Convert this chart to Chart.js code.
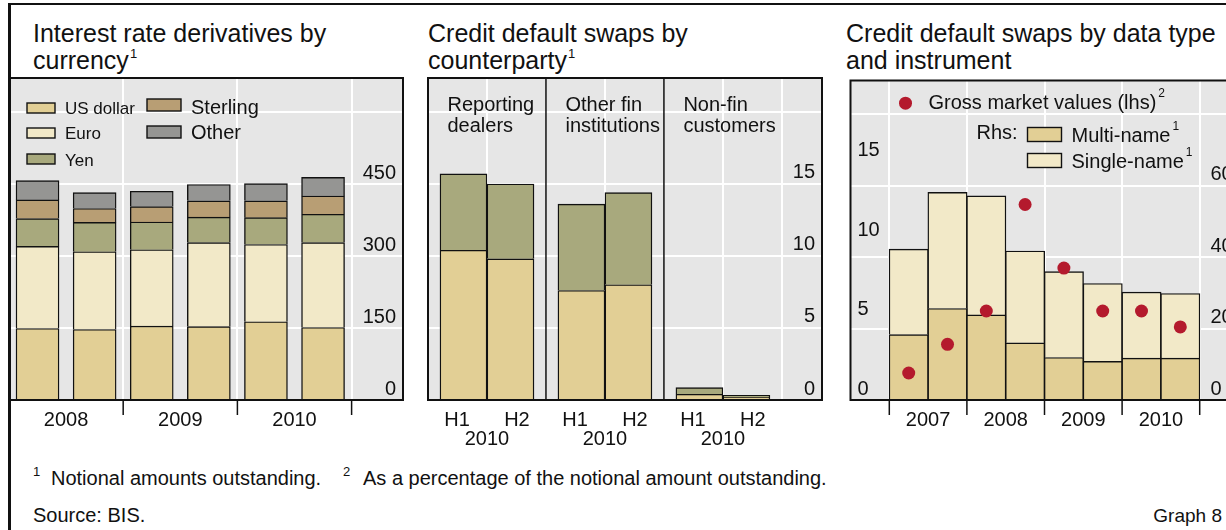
<!DOCTYPE html>
<html>
<head>
<meta charset="utf-8">
<title>Graph 8</title>
<script src="https://cdn.jsdelivr.net/npm/chart.js@4.4.1/dist/chart.umd.min.js"></script>
<style>
  html, body { margin: 0; padding: 0; background: #fff; }
  #fig { position: relative; width: 1226px; height: 530px; overflow: hidden;
         font-family: "Liberation Sans", Arial, sans-serif; color: #111; }
  .txt { position: absolute; white-space: nowrap; }
  .title { top: 20px; font-size: 25px; line-height: 27px; }
  .title sup { font-size: 13px; line-height: 0; vertical-align: 11px; margin-left: 1px; }
  .note { font-size: 20px; line-height: 20px; }
  .mark { font-size: 13px; line-height: 13px; }
  canvas { position: absolute; }
  .rule { position: absolute; background: #111; }
</style>
</head>
<body>
<div id="fig">
  <div class="rule" style="left:8px; top:3px; width:1230px; height:2px;"></div>
  <div class="rule" style="left:8px; top:3px; width:2.5px; height:540px;"></div>

  <div class="txt title" style="left:33px;">Interest rate derivatives by<br>currency<sup>1</sup></div>
  <div class="txt title" style="left:428px;">Credit default swaps by<br>counterparty<sup>1</sup></div>
  <div class="txt title" style="left:846px;">Credit default swaps by data type<br>and instrument</div>

  <canvas id="ird" width="401" height="386" style="left:6px; top:74px;"></canvas>
  <canvas id="cpty" width="402" height="386" style="left:424px; top:74px;"></canvas>
  <canvas id="dtype" width="401" height="386" style="left:844px; top:74px;"></canvas>

  <div class="txt mark" style="left:33px; top:465px;">1</div>
  <div class="txt note" style="left:51px; top:468px;">Notional amounts outstanding.</div>
  <div class="txt mark" style="left:343px; top:465px;">2</div>
  <div class="txt note" style="left:363px; top:468px;">As a percentage of the notional amount outstanding.</div>
  <div class="txt note" style="left:33px; top:505px;">Source: BIS.</div>
  <div class="txt note" style="right:4px; top:506px; font-size:19px;">Graph 8</div>
</div>

<script>
// ---- data ----

// Interest rate derivatives by currency, notional amounts (USD trn), half-years
const irdPeriods = ['H1 2008', 'H2 2008', 'H1 2009', 'H2 2009', 'H1 2010', 'H2 2010'];
const irdYears = ['2008', '2009', '2010'];
const irdSeries = ['US dollar', 'Euro', 'Yen', 'Sterling', 'Other'];
const irdUsd = [149, 147, 154, 153, 163, 151];
const irdEuro = [171, 162, 159, 175, 161, 177];
const irdYen = [58, 61, 58, 53, 56, 59];
const irdSterling = [39, 29, 32, 34, 35, 38];
const irdOther = [40, 33, 32, 34, 36, 39];
const irdTicks = [0, 150, 300, 450, 600];

// Credit default swaps by counterparty (USD trn), H1 and H2 2010
const cptyGroups = [['Reporting', 'dealers'], ['Other fin', 'institutions'], ['Non-fin', 'customers']];
const cptyHalves = ['H1', 'H2'];
const cptyYear = '2010';
const cptyH1Lower = [10.4, 7.6, 0.40];
const cptyH1Upper = [5.3, 6.0, 0.46];
const cptyH2Lower = [9.8, 8.0, 0.19];
const cptyH2Upper = [5.2, 6.4, 0.14];
const cptyTicks = [0, 5, 10, 15, 20];

// Credit default swaps by data type and instrument, half-years 2007-2010
const dtypePeriods = ['H1 2007', 'H2 2007', 'H1 2008', 'H2 2008', 'H1 2009', 'H2 2009', 'H1 2010', 'H2 2010'];
const dtypeYears = ['2007', '2008', '2009', '2010'];
const grossMarketValues = [1.7, 3.5, 5.6, 12.3, 8.3, 5.6, 5.6, 4.6];
const multiName = [18.3, 25.6, 23.8, 16.0, 11.9, 10.8, 11.7, 11.7];
const singleName = [23.9, 32.5, 33.3, 25.7, 24.0, 21.8, 18.5, 18.1];
const dtypeLhsTicks = [0, 5, 10, 15];
const dtypeRhsTicks = [0, 20, 40, 60, 80];

// ---- styling ----
const FONT_FAMILY = '"Liberation Sans", Arial, sans-serif';
const INK = '#111';
const GRID = '#ffffff';
const PLOT_BG = '#e6e6e6';
const irdColors = ['#e2cf95', '#f2e9c8', '#a8a97d', '#b89e74', '#959593'];
const lightColor = '#e2cf95';
const oliveColor = '#a8a97d';
const singleColor = '#f2e9c8';
const dotColor = '#b41a2d';

Chart.defaults.animation = false;
Chart.defaults.plugins.legend.display = false;
Chart.defaults.plugins.tooltip.enabled = false;

function setFont(ctx, px) {
    ctx.font = px + 'px ' + FONT_FAMILY;
}

// grey plot background, black frame, axis labels and tick marks
const panelFrame = {
    id: 'panelFrame',
    beforeDraw(chart) {
        const { ctx, chartArea: a } = chart;
        ctx.save();
        ctx.fillStyle = PLOT_BG;
        ctx.fillRect(a.left, a.top, a.width, a.height);
        ctx.restore();
    },
    afterDraw(chart, args, opts) {
        const { ctx, chartArea: a, scales } = chart;
        const x = scales.x;
        ctx.save();
        ctx.strokeStyle = INK;

        ctx.lineWidth = 1.5;
        (opts.separators || []).forEach(v => {
            const px = x.getPixelForValue(v);
            ctx.beginPath();
            ctx.moveTo(px, a.top);
            ctx.lineTo(px, a.bottom);
            ctx.stroke();
        });
        (opts.tickMarks || []).forEach(v => {
            const px = x.getPixelForValue(v);
            ctx.beginPath();
            ctx.moveTo(px, a.bottom);
            ctx.lineTo(px, a.bottom + 15);
            ctx.stroke();
        });

        ctx.lineWidth = 2;
        ctx.strokeRect(a.left, a.top, a.width, a.height);

        setFont(ctx, 20);
        ctx.fillStyle = INK;
        ctx.textBaseline = 'alphabetic';
        (opts.yLabels || []).forEach(spec => {
            const s = scales[spec.axis];
            ctx.textAlign = spec.align;
            const px = spec.from === 'right' ? a.right + spec.dx : a.left + spec.dx;
            spec.values.forEach(v => ctx.fillText(String(v), px, s.getPixelForValue(v) - 5.5));
        });
        ctx.textAlign = 'center';
        (opts.xLabels || []).forEach(l => {
            ctx.fillText(l.text, x.getPixelForValue(l.value), a.bottom + l.dy);
        });
        ctx.restore();
    }
};
Chart.register(panelFrame);

function xScale(min, max, gridValues) {
    return {
        type: 'linear', min: min, max: max, offset: false,
        grid: { color: GRID, lineWidth: 2, drawTicks: false, offset: false },
        border: { display: false },
        ticks: { display: false },
        afterBuildTicks: s => { s.ticks = gridValues.map(v => ({ value: v })); },
        afterFit: s => { s.height = 0; }
    };
}

function yScale(position, max, tickValues, showGrid) {
    return {
        type: 'linear', position: position, min: 0, max: max,
        grid: { display: showGrid, color: GRID, lineWidth: 2, drawTicks: false },
        border: { display: false },
        ticks: { display: false },
        afterBuildTicks: s => { s.ticks = tickValues.map(v => ({ value: v })); },
        afterFit: s => { s.width = 0; }
    };
}

function barStyle(width) {
    return { borderColor: INK, borderWidth: 1.4, barThickness: width };
}

const baseOptions = {
    responsive: false,
    maintainAspectRatio: false,
    layout: { padding: { left: 4, top: 4, right: 4, bottom: 60 } }
};

function drawSwatch(ctx, x, y, w, h, color) {
    ctx.fillStyle = color;
    ctx.fillRect(x, y, w, h);
    ctx.lineWidth = 1.4;
    ctx.strokeStyle = INK;
    ctx.strokeRect(x, y, w, h);
}

function drawWithSup(ctx, text, sup, x, y, size) {
    setFont(ctx, size);
    ctx.fillText(text, x, y);
    const w = ctx.measureText(text).width;
    setFont(ctx, 12);
    ctx.fillText(sup, x + w + 2, y - 12);
}

// ---- panel 1: interest rate derivatives ----
const irdLegend = {
    id: 'irdLegend',
    afterDatasetsDraw(chart) {
        const { ctx, chartArea: a } = chart;
        const items = [
            { k: 0, sx: 17, sy: 25, sw: 28, sh: 10, tx: 55, ty: 35.5, size: 17 },
            { k: 1, sx: 17, sy: 50, sw: 28, sh: 10, tx: 55, ty: 61, size: 17 },
            { k: 2, sx: 17, sy: 76, sw: 28, sh: 10, tx: 55, ty: 88, size: 17 },
            { k: 3, sx: 137, sy: 21, sw: 34, sh: 12, tx: 181, ty: 35.5, size: 20 },
            { k: 4, sx: 137, sy: 48, sw: 34, sh: 12, tx: 181, ty: 60.5, size: 20 }
        ];
        ctx.save();
        items.forEach(it => {
            drawSwatch(ctx, a.left + it.sx, a.top + it.sy, it.sw, it.sh, irdColors[it.k]);
            setFont(ctx, it.size);
            ctx.fillStyle = INK;
            ctx.textAlign = 'left';
            ctx.textBaseline = 'alphabetic';
            ctx.fillText(irdSeries[it.k], a.left + it.tx, a.top + it.ty);
        });
        ctx.restore();
    }
};

const irdValues = [irdUsd, irdEuro, irdYen, irdSterling, irdOther];
new Chart(document.getElementById('ird'), {
    type: 'bar',
    data: {
        labels: irdPeriods.map((p, i) => i + 1),
        datasets: irdSeries.map((name, k) => Object.assign({
            label: name, data: irdValues[k], backgroundColor: irdColors[k], stack: 'ird'
        }, barStyle(43)))
    },
    options: Object.assign({}, baseOptions, {
        scales: {
            x: xScale(0.518, 7.4, [2.5, 4.5, 6.5]),
            y: yScale('right', 671, irdTicks, true)
        },
        plugins: {
            panelFrame: {
                tickMarks: [2.5, 4.5, 6.5],
                xLabels: irdYears.map((y, i) => ({ text: y, value: 1.5 + 2 * i, dy: 26 })),
                yLabels: [{ axis: 'y', values: irdTicks.slice(0, -1), align: 'right', from: 'right', dx: -7 }]
            }
        }
    }),
    plugins: [irdLegend]
});

// ---- panel 2: CDS by counterparty ----
const cptyHeader = {
    id: 'cptyHeader',
    afterDatasetsDraw(chart) {
        const { ctx, chartArea: a, scales: { x } } = chart;
        ctx.save();
        setFont(ctx, 20);
        ctx.fillStyle = INK;
        ctx.textAlign = 'left';
        ctx.textBaseline = 'alphabetic';
        cptyGroups.forEach((lines, i) => {
            const left = x.getPixelForValue(i + 0.5) + 19.5;
            lines.forEach((t, j) => ctx.fillText(t, left, a.top + 33 + 21 * j));
        });
        ctx.restore();
    }
};

const cptyXLabels = [];
cptyGroups.forEach((g, i) => {
    cptyXLabels.push({ text: cptyHalves[0], value: i + 1 - 0.254, dy: 26 });
    cptyXLabels.push({ text: cptyHalves[1], value: i + 1 + 0.254, dy: 26 });
    cptyXLabels.push({ text: cptyYear, value: i + 1, dy: 45 });
});

new Chart(document.getElementById('cpty'), {
    type: 'bar',
    data: {
        labels: cptyGroups.map((g, i) => i + 1),
        datasets: [
            Object.assign({ label: 'H1 lower', data: cptyH1Lower, backgroundColor: lightColor, stack: 'H1' }, barStyle(47)),
            Object.assign({ label: 'H1 upper', data: cptyH1Upper, backgroundColor: oliveColor, stack: 'H1' }, barStyle(47)),
            Object.assign({ label: 'H2 lower', data: cptyH2Lower, backgroundColor: lightColor, stack: 'H2' }, barStyle(47)),
            Object.assign({ label: 'H2 upper', data: cptyH2Upper, backgroundColor: oliveColor, stack: 'H2' }, barStyle(47))
        ]
    },
    options: Object.assign({}, baseOptions, {
        scales: {
            x: xScale(0.5, 3.84, [1, 2, 3, 3.5]),
            y: yScale('right', 22.36, cptyTicks, true)
        },
        plugins: {
            panelFrame: {
                separators: [1.5, 2.5],
                xLabels: cptyXLabels,
                yLabels: [{ axis: 'y', values: cptyTicks.slice(0, -1), align: 'right', from: 'right', dx: -7 }]
            }
        }
    }),
    plugins: [cptyHeader]
});

// ---- panel 3: CDS by data type and instrument ----
const dtypeLegend = {
    id: 'dtypeLegend',
    afterDatasetsDraw(chart) {
        const { ctx, chartArea: a } = chart;
        ctx.save();
        ctx.fillStyle = dotColor;
        ctx.beginPath();
        ctx.arc(a.left + 55, a.top + 22.7, 6.5, 0, Math.PI * 2);
        ctx.fill();

        ctx.fillStyle = INK;
        ctx.textAlign = 'left';
        ctx.textBaseline = 'alphabetic';
        drawWithSup(ctx, 'Gross market values (lhs)', '2', a.left + 78, a.top + 28, 20);
        setFont(ctx, 20);
        ctx.fillText('Rhs:', a.left + 126, a.top + 58);

        drawSwatch(ctx, a.left + 177, a.top + 47, 34, 14, lightColor);
        drawSwatch(ctx, a.left + 177, a.top + 73, 34, 14, singleColor);
        ctx.fillStyle = INK;
        drawWithSup(ctx, 'Multi-name', '1', a.left + 221, a.top + 61, 20);
        drawWithSup(ctx, 'Single-name', '1', a.left + 221, a.top + 87, 20);
        ctx.restore();
    }
};

new Chart(document.getElementById('dtype'), {
    type: 'bar',
    data: {
        labels: dtypePeriods.map((p, i) => i + 1),
        datasets: [
            {
                type: 'line', label: 'Gross market values (lhs)', data: grossMarketValues,
                yAxisID: 'yl', showLine: false, order: 0,
                pointRadius: 6.5, pointHoverRadius: 6.5, pointBorderWidth: 0,
                pointBackgroundColor: dotColor, backgroundColor: dotColor
            },
            Object.assign({ label: 'Multi-name', data: multiName, backgroundColor: lightColor,
                yAxisID: 'yr', stack: 'rhs', order: 1 }, barStyle(39.3)),
            Object.assign({ label: 'Single-name', data: singleName, backgroundColor: singleColor,
                yAxisID: 'yr', stack: 'rhs', order: 1 }, barStyle(39.3))
        ]
    },
    options: Object.assign({}, baseOptions, {
        scales: {
            x: xScale(-0.5, 9.5, [0.5, 2.5, 4.5, 6.5, 8.5]),
            yl: yScale('left', 20.1, dtypeLhsTicks, false),
            yr: yScale('right', 89.4, dtypeRhsTicks, true)
        },
        plugins: {
            panelFrame: {
                tickMarks: [0.5, 2.5, 4.5, 6.5, 8.5],
                xLabels: dtypeYears.map((y, i) => ({ text: y, value: 1.5 + 2 * i, dy: 26 })),
                yLabels: [
                    { axis: 'yl', values: dtypeLhsTicks, align: 'left', from: 'left', dx: 7 },
                    { axis: 'yr', values: dtypeRhsTicks.slice(0, -1), align: 'left', from: 'right', dx: -28 }
                ]
            }
        }
    }),
    plugins: [dtypeLegend]
});
</script>
</body>
</html>
